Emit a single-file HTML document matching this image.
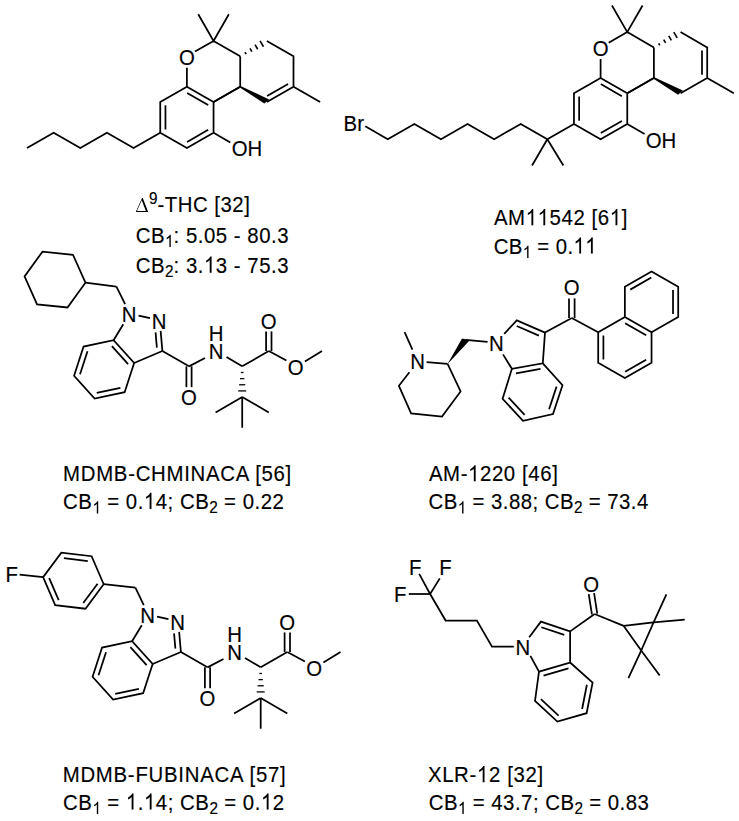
<!DOCTYPE html>
<html><head><meta charset="utf-8"><style>
html,body{margin:0;padding:0;background:#fff;width:739px;height:821px;overflow:hidden}
svg{display:block;position:absolute;left:0;top:0}
line,polyline,polygon.r{stroke:#000;stroke-width:1.75;fill:none;stroke-linecap:butt;stroke-linejoin:miter}
polygon.f,path.f{fill:#000;stroke:none}
tspan.h{fill-opacity:0;stroke-opacity:0}
g.one path{fill:#000;stroke:#000;stroke-width:7px}
text{font-family:"Liberation Sans",sans-serif;font-size:21px;fill:#000}
tspan.s{font-size:15.8px;letter-spacing:0}
text{stroke:#000;stroke-width:0.15px}
text.c{letter-spacing:0.3px}
</style></head><body>
<svg width="739" height="821" viewBox="0 0 739 821">
<polygon class="r" points="160.25,102.1 186.9,86.8 213.55,102.1 213.55,132.7 186.9,148 160.25,132.7"/>
<line x1="165.45" y1="105.32" x2="165.45" y2="129.48"/>
<line x1="187.11" y1="92.91" x2="208.16" y2="105"/>
<line x1="208.16" y1="129.8" x2="187.11" y2="141.89"/>
<polyline points="213.55,102.1 240.2,86.8 240.2,56.2"/>
<line x1="240.2" y1="86.8" x2="213.55" y2="102.1"/>
<polyline points="198.25,14.25 213.55,40.9 228.85,14.25"/>
<line x1="213.55" y1="40.9" x2="240.2" y2="56.2"/>
<line x1="213.55" y1="40.9" x2="194.97" y2="51.57"/>
<line x1="186.9" y1="86.8" x2="186.9" y2="67.8"/>
<line style="stroke-width:1.6" x1="246.13" y1="54.18" x2="244.93" y2="52.1"/>
<line style="stroke-width:1.6" x1="251.91" y1="51.71" x2="249.99" y2="48.35"/>
<line style="stroke-width:1.6" x1="257.7" y1="49.23" x2="255.04" y2="44.61"/>
<line style="stroke-width:1.6" x1="263.48" y1="46.76" x2="260.09" y2="40.86"/>
<polygon class="f" points="240.55,86.1 239.85,87.5 264.35,103.6 269.15,99.4"/>
<polyline points="266.85,40.9 293.5,56.2 293.5,86.8 266.85,102.1"/>
<line x1="288.11" y1="83.9" x2="267.06" y2="95.99"/>
<line x1="293.5" y1="86.8" x2="320.15" y2="102.1"/>
<text transform="translate(186.9 64.6) scale(0.97 1.07)" text-anchor="middle">O</text>
<line x1="213.55" y1="132.7" x2="230.35" y2="142.4"/>
<text transform="translate(231.65 156.2) scale(0.97 1.07)">OH</text>
<polyline points="160.25,132.7 133.6,148 106.95,132.7 80.3,148 53.65,132.7 27,148"/>
<polygon class="r" points="573.95,93.3 600.6,78 627.25,93.3 627.25,123.9 600.6,139.2 573.95,123.9"/>
<line x1="579.15" y1="96.52" x2="579.15" y2="120.68"/>
<line x1="600.81" y1="84.11" x2="621.86" y2="96.2"/>
<line x1="621.86" y1="121" x2="600.81" y2="133.09"/>
<polyline points="627.25,93.3 653.9,78 653.9,47.4"/>
<line x1="653.9" y1="78" x2="627.25" y2="93.3"/>
<polyline points="611.95,5.45 627.25,32.1 642.55,5.45"/>
<line x1="627.25" y1="32.1" x2="653.9" y2="47.4"/>
<line x1="627.25" y1="32.1" x2="608.67" y2="42.77"/>
<line x1="600.6" y1="78" x2="600.6" y2="59"/>
<line style="stroke-width:1.6" x1="659.83" y1="45.38" x2="658.63" y2="43.3"/>
<line style="stroke-width:1.6" x1="665.61" y1="42.91" x2="663.69" y2="39.55"/>
<line style="stroke-width:1.6" x1="671.4" y1="40.43" x2="668.74" y2="35.81"/>
<line style="stroke-width:1.6" x1="677.18" y1="37.96" x2="673.79" y2="32.06"/>
<polygon class="f" points="654.25,77.3 653.55,78.7 678.05,94.8 682.85,90.6"/>
<polyline points="680.55,32.1 707.2,47.4 707.2,78 680.55,93.3"/>
<line x1="702" y1="50.62" x2="702" y2="74.78"/>
<line x1="707.2" y1="78" x2="733.85" y2="93.3"/>
<text transform="translate(600.6 55.8) scale(0.97 1.07)" text-anchor="middle">O</text>
<line x1="627.25" y1="123.9" x2="644.55" y2="133.9"/>
<text transform="translate(645.75 147.6) scale(0.97 1.07)">OH</text>
<line x1="547.35" y1="139.2" x2="532.05" y2="165.5"/>
<line x1="547.35" y1="139.2" x2="563.35" y2="165.5"/>
<polyline points="573.95,123.9 547.35,139.2 520.75,123.9 494.15,139.2 467.55,123.9 440.95,139.2 414.35,123.9 387.75,139.2 365.3,126.2"/>
<text transform="translate(343.6 131.4) scale(0.97 1.07)">Br</text>
<polygon class="r" points="134.14,363 124.65,392.19 94.62,398.58 74.08,375.76 83.57,346.56 113.6,340.18"/>
<line x1="111.89" y1="346.06" x2="128.12" y2="364.08"/>
<line x1="87.52" y1="351.24" x2="80.02" y2="374.3"/>
<line x1="96.7" y1="392.82" x2="120.42" y2="387.78"/>
<line x1="134.14" y1="363" x2="162.4" y2="351"/>
<line x1="162.4" y1="351" x2="160.64" y2="330.88"/>
<line x1="156.89" y1="347.67" x2="155.55" y2="332.33"/>
<line x1="113.6" y1="340.18" x2="123.26" y2="324.29"/>
<line x1="138.58" y1="315.54" x2="149.98" y2="318.17"/>
<text transform="translate(129.21 322.11) scale(0.97 1.07)" text-anchor="middle">N</text>
<text transform="translate(159.22 329.02) scale(0.97 1.07)" text-anchor="middle">N</text>
<line x1="162.4" y1="351" x2="189" y2="366.35"/>
<line x1="186.4" y1="366.35" x2="186.4" y2="387.15"/>
<line x1="191.6" y1="366.35" x2="191.6" y2="387.15"/>
<text transform="translate(189 404.85) scale(0.97 1.07)" text-anchor="middle">O</text>
<line x1="189" y1="366.35" x2="205" y2="358.05"/>
<text transform="translate(216.2 359) scale(0.97 1.07)" text-anchor="middle">N</text>
<text transform="translate(216.2 340.6) scale(0.97 1.07)" text-anchor="middle">H</text>
<line x1="226.5" y1="356.95" x2="242.2" y2="366.35"/>
<line x1="242.2" y1="366.35" x2="268.8" y2="351"/>
<line x1="271.5" y1="351" x2="271.5" y2="331.4"/>
<line x1="266.1" y1="351" x2="266.1" y2="331.4"/>
<text transform="translate(268.8 328.6) scale(0.97 1.07)" text-anchor="middle">O</text>
<line x1="268.8" y1="351" x2="286.4" y2="360.5"/>
<text transform="translate(295.8 374.65) scale(0.97 1.07)" text-anchor="middle">O</text>
<line x1="304.9" y1="361.55" x2="322" y2="351"/>
<line style="stroke-width:1.3" x1="240.9" y1="372.49" x2="243.5" y2="372.49"/>
<line style="stroke-width:1.3" x1="240.02" y1="378.63" x2="244.38" y2="378.63"/>
<line style="stroke-width:1.3" x1="239.13" y1="384.77" x2="245.27" y2="384.77"/>
<line style="stroke-width:1.3" x1="238.25" y1="390.91" x2="246.15" y2="390.91"/>
<line x1="242.2" y1="397.05" x2="215.6" y2="412.4"/>
<line x1="242.2" y1="397.05" x2="268.8" y2="412.4"/>
<line x1="242.2" y1="397.05" x2="242.2" y2="427.75"/>
<line x1="125.13" y1="304.11" x2="116.4" y2="286.6"/>
<line x1="116.4" y1="286.6" x2="85.44" y2="282.7"/>
<polygon class="r" points="85.44,282.7 72.94,254.76 42.51,251.62 24.56,276.4 37.06,304.34 67.49,307.48"/>
<polygon class="r" points="152.64,664 143.15,693.19 113.12,699.58 92.58,676.76 102.07,647.56 132.1,641.18"/>
<line x1="130.39" y1="647.06" x2="146.62" y2="665.08"/>
<line x1="106.02" y1="652.24" x2="98.52" y2="675.3"/>
<line x1="115.2" y1="693.82" x2="138.92" y2="688.78"/>
<line x1="152.64" y1="664" x2="180.9" y2="652"/>
<line x1="180.9" y1="652" x2="179.14" y2="631.88"/>
<line x1="175.39" y1="648.67" x2="174.05" y2="633.33"/>
<line x1="132.1" y1="641.18" x2="141.76" y2="625.29"/>
<line x1="157.08" y1="616.54" x2="168.48" y2="619.17"/>
<text transform="translate(147.71 623.11) scale(0.97 1.07)" text-anchor="middle">N</text>
<text transform="translate(177.72 630.02) scale(0.97 1.07)" text-anchor="middle">N</text>
<line x1="180.9" y1="652" x2="207.5" y2="667.35"/>
<line x1="204.9" y1="667.35" x2="204.9" y2="688.15"/>
<line x1="210.1" y1="667.35" x2="210.1" y2="688.15"/>
<text transform="translate(207.5 705.85) scale(0.97 1.07)" text-anchor="middle">O</text>
<line x1="207.5" y1="667.35" x2="223.5" y2="659.05"/>
<text transform="translate(234.7 660) scale(0.97 1.07)" text-anchor="middle">N</text>
<text transform="translate(234.7 641.6) scale(0.97 1.07)" text-anchor="middle">H</text>
<line x1="245" y1="657.95" x2="260.7" y2="667.35"/>
<line x1="260.7" y1="667.35" x2="287.3" y2="652"/>
<line x1="290" y1="652" x2="290" y2="632.4"/>
<line x1="284.6" y1="652" x2="284.6" y2="632.4"/>
<text transform="translate(287.3 629.6) scale(0.97 1.07)" text-anchor="middle">O</text>
<line x1="287.3" y1="652" x2="304.9" y2="661.5"/>
<text transform="translate(314.3 675.65) scale(0.97 1.07)" text-anchor="middle">O</text>
<line x1="323.4" y1="662.55" x2="340.5" y2="652"/>
<line style="stroke-width:1.3" x1="259.4" y1="673.49" x2="262" y2="673.49"/>
<line style="stroke-width:1.3" x1="258.52" y1="679.63" x2="262.88" y2="679.63"/>
<line style="stroke-width:1.3" x1="257.63" y1="685.77" x2="263.77" y2="685.77"/>
<line style="stroke-width:1.3" x1="256.75" y1="691.91" x2="264.65" y2="691.91"/>
<line x1="260.7" y1="698.05" x2="234.1" y2="713.4"/>
<line x1="260.7" y1="698.05" x2="287.3" y2="713.4"/>
<line x1="260.7" y1="698.05" x2="260.7" y2="728.75"/>
<line x1="143.77" y1="605.04" x2="135.4" y2="587.6"/>
<line x1="135.4" y1="587.6" x2="103.69" y2="584.23"/>
<polygon class="r" points="103.69,584.23 91.61,556.23 61.31,552.7 43.11,577.17 55.19,605.17 85.49,608.7"/>
<line x1="87.8" y1="561.02" x2="63.91" y2="558.24"/>
<line x1="97.6" y1="583.71" x2="83.24" y2="603.01"/>
<line x1="58.69" y1="600.15" x2="49.16" y2="578.07"/>
<line x1="43.11" y1="577.17" x2="19.6" y2="574.6"/>
<text transform="translate(5.6 582.2) scale(0.97 1.07)">F</text>
<line x1="404.6" y1="332.2" x2="412.4" y2="349.6"/>
<text transform="translate(417.6 368.7) scale(0.97 1.07)" text-anchor="middle">N</text>
<line x1="426.6" y1="362.1" x2="447.6" y2="363.8"/>
<polygon class="f" points="447.4,364.2 462.0,338.6 469.8,340.3 468.6,341.4"/>
<line x1="465.5" y1="339.8" x2="487.6" y2="341.8"/>
<polyline points="447.6,363.8 460.6,391.5 442,416.6 411.1,413.4 398.9,385.8 409.4,372.2"/>
<text transform="translate(496.4 350.6) scale(0.97 1.07)" text-anchor="middle">N</text>
<polyline points="504.2,333.8 516.8,320.4 545,332.6 542.8,363.3 511.9,368.8 503,354.4"/>
<line x1="516.75" y1="326.05" x2="538.9" y2="335.63"/>
<polyline points="542.8,363.3 562.5,385.2 553,414 523,420.8 502.6,398.8 511.9,368.8"/>
<line x1="515.99" y1="373.35" x2="540.54" y2="368.98"/>
<line x1="556.55" y1="386.63" x2="549.07" y2="409.31"/>
<line x1="524.62" y1="414.9" x2="508.61" y2="397.63"/>
<line x1="545" y1="332.6" x2="571.8" y2="318"/>
<line x1="574.6" y1="318" x2="574.6" y2="298.4"/>
<line x1="569" y1="318" x2="569" y2="298.4"/>
<text transform="translate(571.8 295.4) scale(0.97 1.07)" text-anchor="middle">O</text>
<line x1="571.8" y1="318" x2="598.2" y2="332.3"/>
<polygon class="r" points="624.87,317.1 624.87,286.7 651.54,271.5 678.21,286.7 678.21,317.1 651.54,332.3"/>
<polyline points="598.2,332.3 598.2,362.7 624.87,377.9 651.54,362.7 651.54,332.3"/>
<line x1="598.2" y1="332.3" x2="624.87" y2="317.1"/>
<line x1="630.25" y1="289.62" x2="651.31" y2="277.61"/>
<line x1="673.01" y1="289.92" x2="673.01" y2="313.88"/>
<line x1="625.1" y1="323.21" x2="646.16" y2="335.22"/>
<line x1="603.4" y1="335.52" x2="603.4" y2="359.48"/>
<line x1="646.16" y1="359.78" x2="625.1" y2="371.79"/>
<line x1="430.1" y1="594" x2="419.2" y2="573.8"/>
<line x1="430.1" y1="594" x2="439.8" y2="578.4"/>
<line x1="430.1" y1="594" x2="408.8" y2="594"/>
<text transform="translate(409 575) scale(0.97 1.07)">F</text>
<text transform="translate(439.3 575) scale(0.97 1.07)">F</text>
<text transform="translate(393.9 602.1) scale(0.97 1.07)">F</text>
<polyline points="430.1,594 445.6,620.5 476.9,620.5 492,646.6 513.8,646.6"/>
<text transform="translate(522.9 654.7) scale(0.97 1.07)" text-anchor="middle">N</text>
<polyline points="529.2,637.2 540.9,621.6 570.1,631.4 570.1,662.5 539,671.6 530.4,655.8"/>
<line x1="541.33" y1="627.23" x2="564.27" y2="634.93"/>
<polyline points="570.1,662.5 592.6,682.6 586.6,713.2 557.4,721.6 535,700.8 539,671.6"/>
<line x1="543.55" y1="675.69" x2="568.47" y2="668.4"/>
<line x1="586.88" y1="684.76" x2="582.12" y2="709.04"/>
<line x1="558.58" y1="715.6" x2="540.9" y2="699.18"/>
<line x1="570.1" y1="631.4" x2="594.6" y2="614"/>
<line x1="597.27" y1="613.58" x2="594.07" y2="593.18"/>
<line x1="591.93" y1="614.42" x2="588.73" y2="594.02"/>
<text transform="translate(591.2 591.6) scale(0.97 1.07)" text-anchor="middle">O</text>
<line x1="594.6" y1="614" x2="623.7" y2="625.9"/>
<polygon class="r" points="623.7,625.9 653.6,622.4 641.2,650.6"/>
<line x1="653.6" y1="622.4" x2="666.4" y2="594.3"/>
<line x1="653.6" y1="622.4" x2="684.7" y2="619.6"/>
<line x1="641.2" y1="650.6" x2="628.4" y2="678.2"/>
<line x1="641.2" y1="650.6" x2="659.7" y2="675.5"/>
<text class="c" style="letter-spacing:0.520px" transform="translate(135.7 212.4) scale(0.97 1.07)"><tspan fill-opacity="0" stroke-opacity="0">&#916;</tspan><tspan class="s" dx="-0.8" dy="-7.5">9</tspan><tspan dy="7.5">-THC [32]</tspan></text>
<text class="c" style="letter-spacing:0.540px" transform="translate(135.7 242.5) scale(0.97 1.07)">CB<tspan class="s" dy="4.1"><tspan class="h">1</tspan></tspan><tspan dy="-4.1">: 5.05 - 80.3</tspan></text>
<g class="one" transform="translate(135.7 242.5) scale(0.97 1.07)"><path transform="translate(30.25 4.10) scale(0.007715 -0.007715)" d="M763 0H583V1147Q518 1085 412 1023Q306 961 222 930V1104Q373 1175 486 1276Q599 1377 646 1472H763Z"/></g>
<text class="c" style="letter-spacing:0.540px" transform="translate(135.7 272.7) scale(0.97 1.07)">CB<tspan class="s" dy="4.1">2</tspan><tspan dy="-4.1">: 3.<tspan class="h">1</tspan>3 - 75.3</tspan></text>
<g class="one" transform="translate(135.7 272.7) scale(0.97 1.07)"><path transform="translate(70.37 0.00) scale(0.010254 -0.010254)" d="M763 0H583V1147Q518 1085 412 1023Q306 961 222 930V1104Q373 1175 486 1276Q599 1377 646 1472H763Z"/></g>
<text class="c" style="letter-spacing:0.620px" transform="translate(493.9 225.2) scale(0.97 1.07)">AM<tspan class="h">1</tspan><tspan class="h">1</tspan>542 [6<tspan class="h">1</tspan>]</text>
<g class="one" transform="translate(493.9 225.2) scale(0.97 1.07)"><path transform="translate(32.74 0.00) scale(0.010254 -0.010254)" d="M763 0H583V1147Q518 1085 412 1023Q306 961 222 930V1104Q373 1175 486 1276Q599 1377 646 1472H763Z"/><path transform="translate(45.04 0.00) scale(0.010254 -0.010254)" d="M763 0H583V1147Q518 1085 412 1023Q306 961 222 930V1104Q373 1175 486 1276Q599 1377 646 1472H763Z"/><path transform="translate(119.43 0.00) scale(0.010254 -0.010254)" d="M763 0H583V1147Q518 1085 412 1023Q306 961 222 930V1104Q373 1175 486 1276Q599 1377 646 1472H763Z"/></g>
<text class="c" style="letter-spacing:0.405px" transform="translate(493.7 253.6) scale(0.97 1.07)">CB<tspan class="s" dy="4.1"><tspan class="h">1</tspan></tspan><tspan dy="-4.1"> = 0.<tspan class="h">1</tspan><tspan class="h">1</tspan></tspan></text>
<g class="one" transform="translate(493.7 253.6) scale(0.97 1.07)"><path transform="translate(29.97 4.10) scale(0.007715 -0.007715)" d="M763 0H583V1147Q518 1085 412 1023Q306 961 222 930V1104Q373 1175 486 1276Q599 1377 646 1472H763Z"/><path transform="translate(82.22 0.00) scale(0.010254 -0.010254)" d="M763 0H583V1147Q518 1085 412 1023Q306 961 222 930V1104Q373 1175 486 1276Q599 1377 646 1472H763Z"/><path transform="translate(94.31 0.00) scale(0.010254 -0.010254)" d="M763 0H583V1147Q518 1085 412 1023Q306 961 222 930V1104Q373 1175 486 1276Q599 1377 646 1472H763Z"/></g>
<text class="c" style="letter-spacing:0.732px" transform="translate(63.1 481.4) scale(0.97 1.07)">MDMB-CHMINACA [56]</text>
<text class="c" style="letter-spacing:0.552px" transform="translate(63.1 509) scale(0.97 1.07)">CB<tspan class="s" dy="4.1"><tspan class="h">1</tspan></tspan><tspan dy="-4.1"> = 0.<tspan class="h">1</tspan>4; CB<tspan class="s" dy="4.1">2</tspan><tspan dy="-4.1"> = 0.22</tspan></tspan></text>
<g class="one" transform="translate(63.1 509) scale(0.97 1.07)"><path transform="translate(30.28 4.10) scale(0.007715 -0.007715)" d="M763 0H583V1147Q518 1085 412 1023Q306 961 222 930V1104Q373 1175 486 1276Q599 1377 646 1472H763Z"/><path transform="translate(83.26 0.00) scale(0.010254 -0.010254)" d="M763 0H583V1147Q518 1085 412 1023Q306 961 222 930V1104Q373 1175 486 1276Q599 1377 646 1472H763Z"/></g>
<text class="c" style="letter-spacing:0.625px" transform="translate(428.9 481.3) scale(0.97 1.07)">AM-<tspan class="h">1</tspan>220 [46]</text>
<g class="one" transform="translate(428.9 481.3) scale(0.97 1.07)"><path transform="translate(40.36 0.00) scale(0.010254 -0.010254)" d="M763 0H583V1147Q518 1085 412 1023Q306 961 222 930V1104Q373 1175 486 1276Q599 1377 646 1472H763Z"/></g>
<text class="c" style="letter-spacing:0.500px" transform="translate(428.5 509.1) scale(0.97 1.07)">CB<tspan class="s" dy="4.1"><tspan class="h">1</tspan></tspan><tspan dy="-4.1"> = 3.88; CB<tspan class="s" dy="4.1">2</tspan><tspan dy="-4.1"> = 73.4</tspan></tspan></text>
<g class="one" transform="translate(428.5 509.1) scale(0.97 1.07)"><path transform="translate(30.17 4.10) scale(0.007715 -0.007715)" d="M763 0H583V1147Q518 1085 412 1023Q306 961 222 930V1104Q373 1175 486 1276Q599 1377 646 1472H763Z"/></g>
<text class="c" style="letter-spacing:0.762px" transform="translate(62.7 782.2) scale(0.97 1.07)">MDMB-FUBINACA [57]</text>
<text class="c" style="letter-spacing:0.565px" transform="translate(63.1 809.6) scale(0.97 1.07)">CB<tspan class="s" dy="4.1"><tspan class="h">1</tspan></tspan><tspan dy="-4.1"> = <tspan class="h">1</tspan>.<tspan class="h">1</tspan>4; CB<tspan class="s" dy="4.1">2</tspan><tspan dy="-4.1"> = 0.<tspan class="h">1</tspan>2</tspan></tspan></text>
<g class="one" transform="translate(63.1 809.6) scale(0.97 1.07)"><path transform="translate(30.29 4.10) scale(0.007715 -0.007715)" d="M763 0H583V1147Q518 1085 412 1023Q306 961 222 930V1104Q373 1175 486 1276Q599 1377 646 1472H763Z"/><path transform="translate(64.70 0.00) scale(0.010254 -0.010254)" d="M763 0H583V1147Q518 1085 412 1023Q306 961 222 930V1104Q373 1175 486 1276Q599 1377 646 1472H763Z"/><path transform="translate(83.36 0.00) scale(0.010254 -0.010254)" d="M763 0H583V1147Q518 1085 412 1023Q306 961 222 930V1104Q373 1175 486 1276Q599 1377 646 1472H763Z"/><path transform="translate(203.97 0.00) scale(0.010254 -0.010254)" d="M763 0H583V1147Q518 1085 412 1023Q306 961 222 930V1104Q373 1175 486 1276Q599 1377 646 1472H763Z"/></g>
<text class="c" style="letter-spacing:0.670px" transform="translate(427.9 782.2) scale(0.97 1.07)">XLR-<tspan class="h">1</tspan>2 [32]</text>
<g class="one" transform="translate(427.9 782.2) scale(0.97 1.07)"><path transform="translate(50.52 0.00) scale(0.010254 -0.010254)" d="M763 0H583V1147Q518 1085 412 1023Q306 961 222 930V1104Q373 1175 486 1276Q599 1377 646 1472H763Z"/></g>
<text class="c" style="letter-spacing:0.522px" transform="translate(428.7 809.5) scale(0.97 1.07)">CB<tspan class="s" dy="4.1"><tspan class="h">1</tspan></tspan><tspan dy="-4.1"> = 43.7; CB<tspan class="s" dy="4.1">2</tspan><tspan dy="-4.1"> = 0.83</tspan></tspan></text>
<g class="one" transform="translate(428.7 809.5) scale(0.97 1.07)"><path transform="translate(30.22 4.10) scale(0.007715 -0.007715)" d="M763 0H583V1147Q518 1085 412 1023Q306 961 222 930V1104Q373 1175 486 1276Q599 1377 646 1472H763Z"/></g>
<path class="f" fill-rule="evenodd" d="M135.8 212.0 L142.0 197.9 L142.8 197.9 L148.2 212.0 Z M136.96 211.1 L145.83 211.1 L141.7 200.3 Z"/>
</svg>
</body></html>
